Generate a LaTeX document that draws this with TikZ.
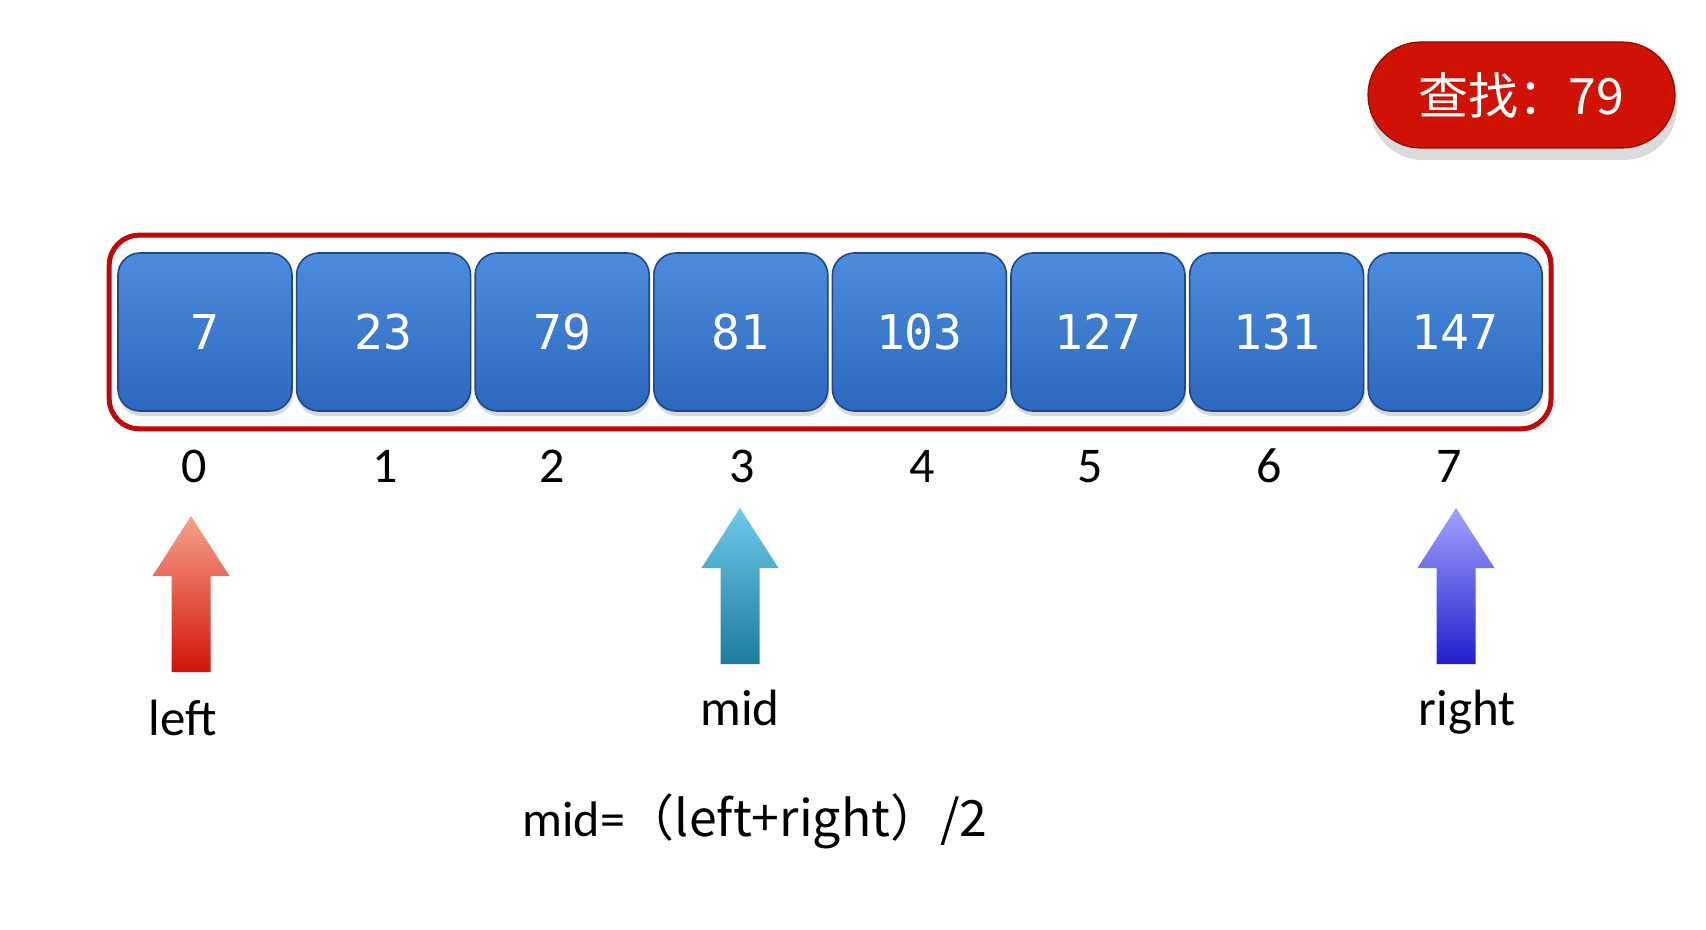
\documentclass[tikz,border=0pt]{standalone}
\usepackage{fontspec}
\setmainfont{Carlito}
\newfontfamily\monofnt{DejaVu Sans Mono}
\newfontfamily\cjk{Noto Sans CJK SC}
\usetikzlibrary{positioning, fit, shadows}
\definecolor{celltop}{RGB}{76, 140, 222}
\definecolor{cellbot}{RGB}{44, 104, 190}
\definecolor{celledge}{RGB}{32, 72, 132}
\definecolor{framered}{RGB}{192, 8, 8}
\definecolor{badgered}{RGB}{208, 18, 4}
\definecolor{badgeedge}{RGB}{150, 10, 0}
\definecolor{lefttop}{RGB}{246, 162, 140}
\definecolor{leftbot}{RGB}{210, 20, 8}
\definecolor{midtop}{RGB}{110, 200, 234}
\definecolor{midbot}{RGB}{30, 124, 156}
\definecolor{righttop}{RGB}{162, 162, 255}
\definecolor{rightbot}{RGB}{34, 30, 204}

\begin{document}
\begin{tikzpicture}[
        x=0.5pt, y=-0.5pt,
        cell/.style={rectangle, rounded corners=11pt, draw=celledge, line width=0.8pt, top color=celltop, bottom color=cellbot, minimum width=87pt, minimum height=79pt, inner sep=0pt, text=white, font=\monofnt\fontsize{24}{28}\selectfont, drop shadow={shadow xshift=0.5pt, shadow yshift=-2.5pt, opacity=0.3}},
        frame/.style={rectangle, draw=framered, line width=2.5pt, rounded corners=15pt},
        idx/.style={anchor=base, inner sep=0pt, font=\fontsize{25}{30}\selectfont},
        lbl/.style={anchor=base, inner sep=0pt, font=\fontsize{25.5}{30}\selectfont},
        badge/.style={rectangle, rounded corners=26.5pt, fill=badgered, draw=badgeedge, line width=0.6pt, minimum width=153.5pt, minimum height=53pt, text=white, font=\cjk\fontsize{25}{30}\selectfont, drop shadow={shadow xshift=1pt, shadow yshift=-6pt, fill=black!14, opacity=1}}
    ]
        \useasboundingbox (0,0) rectangle (1706,930);

        % search target
        \node[badge] (target) at (1521.5,95) {查找：79};

        % array cells and indices
        \foreach \v [count=\i from 0] in {7,23,79,81,103,127,131,147}
            \node[cell] (b\i) at ({205+178.6*\i},332) {\v};
        \node[frame, fit=(b0)(b7), inner xsep=4pt, inner ysep=8.5pt] (row) {};
        \foreach \x [count=\i from 0] in {194,385,552,742,922,1090,1269,1449}
            \node[idx] (i\i) at (\x,482) {\i};

        % pointers
        \foreach \c/\t/\ca/\cb in {191/516/lefttop/leftbot, 740/508/midtop/midbot, 1456/508/righttop/rightbot}
            \shade[top color=\ca, bottom color=\cb] (\c,\t) -- ++(38.5,60) -- ++(-19,0) -- ++(0,96) -- ++(-39,0) -- ++(0,-96) -- ++(-19,0) -- cycle;

        \node[lbl] (lbl-left) at (183,735) {left};
        \node[lbl] (lbl-mid) at (740,725) {mid};
        \node[lbl] (lbl-right) at (1467,725) {right};

        \node[lbl, anchor=base west, font=\fontsize{25}{30}\selectfont] (formula) at (522,836) {mid=\cjk{（}left+right\cjk{）}/2};
    \end{tikzpicture}
\end{document}
